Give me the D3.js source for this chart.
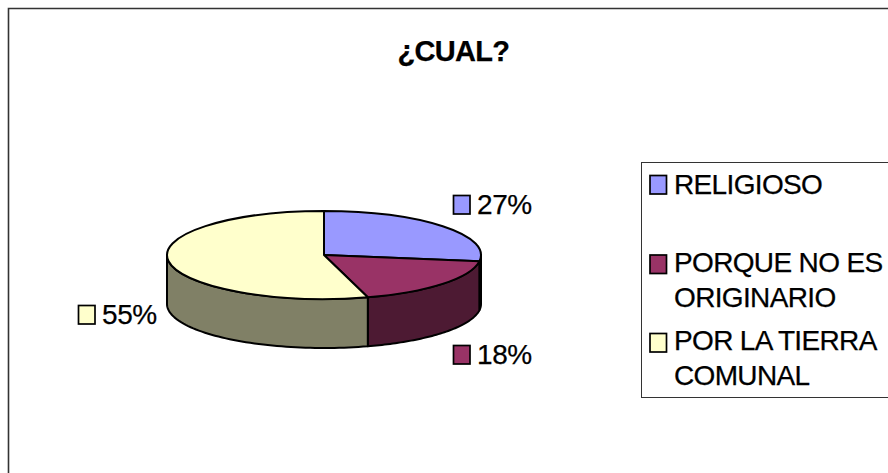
<!DOCTYPE html>
<html><head><meta charset="utf-8">
<script src="https://cdnjs.cloudflare.com/ajax/libs/d3/7.8.5/d3.min.js"></script>
<style>
html,body{margin:0;padding:0;background:#fff}
svg{display:block}
text{font-family:"Liberation Sans",Arial,sans-serif;fill:#000;stroke:#000;stroke-width:.25px}
</style></head><body>
<svg id="c" width="888" height="473"></svg>
<script>
const categories = ["RELIGIOSO", "PORQUE NO ES|ORIGINARIO", "POR LA TIERRA|COMUNAL"];
const values = [27.3, 18.2, 54.5];
const valueLabels = ["27%", "18%", "55%"];
const colors = ["#9999FF", "#993366", "#FFFFCC"];
const sideColors = ["#4D4D80", "#4D1A33", "#808066"];
const title = "¿CUAL?";

const svg = d3.select("#c");
const W = 888, H = 473;
const cx = 324, cy = 255, rx = 157, ry = 44, depth = 49;

// chart frame
svg.append("path").attr("d", `M8.5,${H+2}V8.5H${W+2}`).attr("fill","none").attr("stroke","#333").attr("stroke-width",1.6);

svg.append("text").attr("x",453.5).attr("y",61).attr("text-anchor","middle")
  .attr("font-size",29).attr("font-weight","bold").attr("letter-spacing",-0.7).text(title);

const arcs = d3.pie().sort(null).value(d=>d)(values);
const px = d3.scaleLinear().domain([-1,1]).range([cx-rx,cx+rx]);
const py = d3.scaleLinear().domain([-1,1]).range([cy-ry,cy+ry]);
const pt = (a,dz=0)=>[px(Math.sin(a)), py(-Math.cos(a))+dz];
const STROKE = {stroke:"#000","stroke-width":2,"stroke-linejoin":"round"};
const applyStroke = s => { for (const k in STROKE) s.attr(k,STROKE[k]); return s; };
const line = d3.line();

// side walls: only the visible, front-facing part of each slice
arcs.forEach((d,i)=>{
  const a0 = Math.max(d.startAngle, Math.PI/2), a1 = Math.min(d.endAngle, Math.PI*3/2);
  if (a1 <= a0) return;
  const ang = d3.range(0,61).map(k=>a0+(a1-a0)*k/60);
  const pts = ang.map(a=>pt(a)).concat(ang.slice().reverse().map(a=>pt(a,depth)));
  applyStroke(svg.append("path").attr("d",line(pts)+"Z").attr("fill",sideColors[i]));
});

// top faces
const g = svg.append("g").attr("transform",`translate(${cx},${cy}) scale(1,${ry/rx})`);
g.selectAll("path").data(arcs).join("path")
  .attr("d", d3.arc().innerRadius(0).outerRadius(rx))
  .attr("fill",(d,i)=>colors[i])
  .attr("stroke","#000").attr("stroke-width",2).attr("stroke-linejoin","round")
  .attr("vector-effect","non-scaling-stroke");

// data labels
const labelPos = [[453,195],[453,345],[78,305]];
labelPos.forEach((p,i)=>{
  svg.append("rect").attr("x",p[0]+.5).attr("y",p[1]+.5).attr("width",16.5).attr("height",18.5)
    .attr("fill",colors[i]).attr("stroke","#000").attr("stroke-width",1.7);
  svg.append("text").attr("x",p[0]+24).attr("y",p[1]+19).attr("font-size",28).attr("letter-spacing",-0.4).text(valueLabels[i]);
});

// legend
svg.append("rect").attr("x",641.5).attr("y",162.5).attr("width",W).attr("height",235)
  .attr("fill","#fff").attr("stroke","#333").attr("stroke-width",1);
const legendY = [175,254.5,333];
const legendBase = [[194],[272,307],[350,385]];
categories.forEach((c,i)=>{
  svg.append("rect").attr("x",650).attr("y",legendY[i]+.5).attr("width",16.5).attr("height",18.5)
    .attr("fill",colors[i]).attr("stroke","#000").attr("stroke-width",1.7);
  c.split("|").forEach((t,j)=>{
    svg.append("text").attr("x",674).attr("y",legendBase[i][j]).attr("font-size",28).attr("letter-spacing",-0.65).text(t);
  });
});
</script></body></html>
